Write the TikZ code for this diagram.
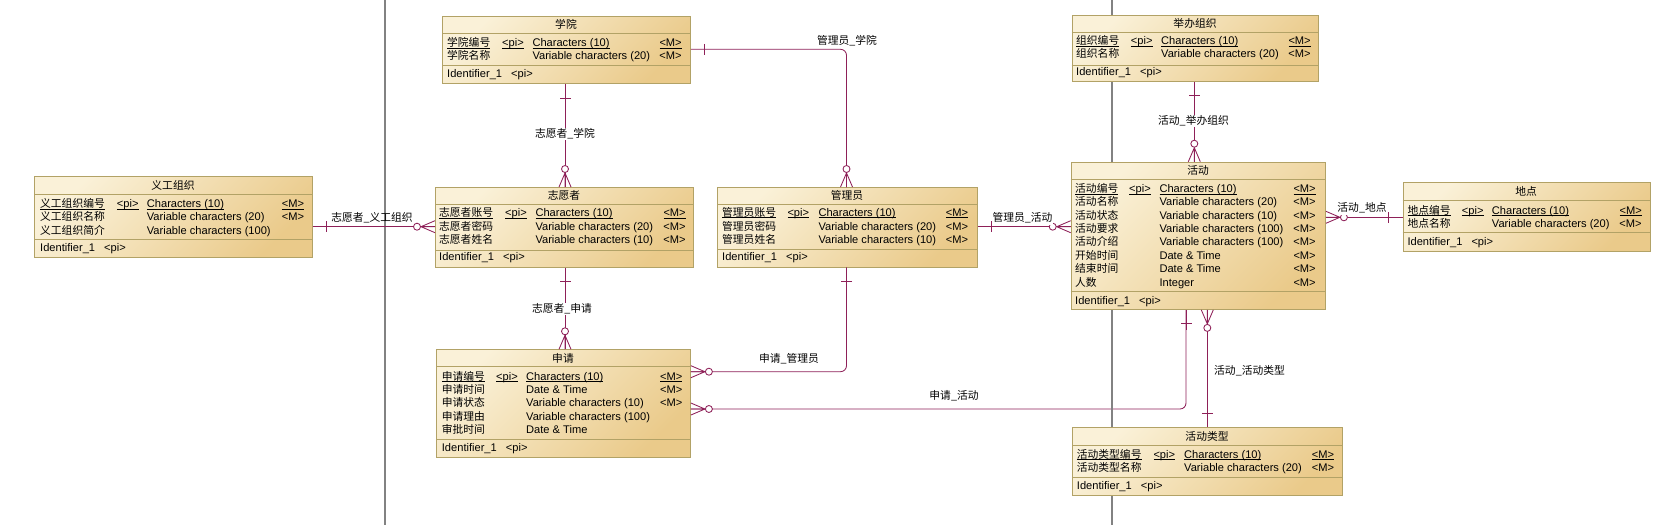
\documentclass[tikz,border=0pt]{standalone}
\usepackage{fontspec}
\setmainfont{Liberation Sans}
\newfontfamily\cjk{Noto Sans CJK SC}[Scale=0.97]
\definecolor{entborder}{RGB}{178,162,102}
\definecolor{entlight}{RGB}{250,241,216}
\definecolor{entdark}{RGB}{234,202,138}
\definecolor{relcol}{RGB}{142,32,88}
\definecolor{pagegray}{RGB}{130,130,130}
\newcommand\ulfix[1]{\setbox0\hbox{#1}\rlap{\vrule width\wd0 height -1.4pt depth 2.1pt}\box0}
\newcommand\erow[7]{\makebox[#1pt][l]{#4}\makebox[#2pt][l]{#5}\makebox[#3pt][l]{#6}#7}
\newcommand\idrow{\makebox[64pt][l]{Identifier\_1}<pi>}
\tikzset{
  ent/.style={draw=entborder, line width=0.9pt, rectangle, inner sep=0pt, anchor=north west,
    top color=entlight, bottom color=entdark, shading angle=45},
  sepline/.style={draw=entborder, line width=0.9pt},
  txt/.style={inner sep=0pt, anchor=base west, font=\fontsize{11.1}{13}\selectfont},
  ttl/.style={inner sep=0pt, anchor=base, font=\fontsize{11.1}{13}\selectfont\cjk},
  rel/.style={draw=relcol, line width=0.85pt},
  rlabel/.style={inner sep=1pt, fill=white, text height=8pt, text depth=2pt, font=\fontsize{11.1}{13}\selectfont\cjk},
  manyend/.pic={\draw[rel] (0,6)--(14,0)--(0,-6) (0,0)--(14,0); \draw[rel, fill=white] (18,0) circle (3.5pt);},
  oneend/.pic={\draw[rel] (14,-5.5)--(14,5.5);},
  pageline/.style={draw=pagegray, line width=1.2pt},
}
\begin{document}
\begin{tikzpicture}[x=1pt,y=-1pt]
\useasboundingbox (0,0) rectangle (1664,525);
\fill[white] (0,0) rectangle (1664,525);

% ===== 义工组织 =====
\node[ent, minimum width=278pt, minimum height=81pt] (ygzz) at (34,176) {};
\draw[sepline] (34,194) -- (312,194) (34,239.3) -- (312,239.3);
\node[ttl] (ygzz-t) at (173,189) {义工组织};
\node[txt] (ygzz-1) at (40,207.3) {\erow{76.7}{30}{135}{\ulfix{\cjk 义工组织编号}}{\ulfix{<pi>}}{\ulfix{Characters (10)}}{\ulfix{<M>}}};
\node[txt] (ygzz-2) at (40,220.7) {\erow{76.7}{30}{135}{\cjk 义工组织名称}{}{Variable characters (20)}{<M>}};
\node[txt] (ygzz-3) at (40,234) {\erow{76.7}{30}{135}{\cjk 义工组织简介}{}{Variable characters (100)}{}};
\node[txt] (ygzz-id) at (40,251.7) {\idrow};

% ===== 学院 =====
\node[ent, minimum width=248pt, minimum height=67.3pt] (xy) at (442,16) {};
\draw[sepline] (442,33.3) -- (690,33.3) (442,65.3) -- (690,65.3);
\node[ttl] (xy-t) at (566,28.7) {学院};
\node[txt] (xy-1) at (447,46.7) {\erow{55}{30.3}{127}{\ulfix{\cjk 学院编号}}{\ulfix{<pi>}}{\ulfix{Characters (10)}}{\ulfix{<M>}}};
\node[txt] (xy-2) at (447,59.5) {\erow{55}{30.3}{127}{\cjk 学院名称}{}{Variable characters (20)}{<M>}};
\node[txt] (xy-id) at (447,77.3) {\idrow};

% ===== 志愿者 =====
\node[ent, minimum width=258pt, minimum height=80pt] (zyz) at (435,187) {};
\draw[sepline] (435,204.3) -- (693,204.3) (435,250) -- (693,250);
\node[ttl] (zyz-t) at (564,199.7) {志愿者};
\node[txt] (zyz-1) at (439,216.7) {\erow{66}{30.3}{128}{\ulfix{\cjk 志愿者账号}}{\ulfix{<pi>}}{\ulfix{Characters (10)}}{\ulfix{<M>}}};
\node[txt] (zyz-2) at (439,230) {\erow{66}{30.3}{128}{\cjk 志愿者密码}{}{Variable characters (20)}{<M>}};
\node[txt] (zyz-3) at (439,243.3) {\erow{66}{30.3}{128}{\cjk 志愿者姓名}{}{Variable characters (10)}{<M>}};
\node[txt] (zyz-id) at (439,260.7) {\idrow};

% ===== 管理员 =====
\node[ent, minimum width=260pt, minimum height=79.5pt] (gly) at (717,187) {};
\draw[sepline] (717,204) -- (977,204) (717,249.7) -- (977,249.7);
\node[ttl] (gly-t) at (847,199.5) {管理员};
\node[txt] (gly-1) at (722,216) {\erow{65.3}{31}{127.4}{\ulfix{\cjk 管理员账号}}{\ulfix{<pi>}}{\ulfix{Characters (10)}}{\ulfix{<M>}}};
\node[txt] (gly-2) at (722,230) {\erow{65.3}{31}{127.4}{\cjk 管理员密码}{}{Variable characters (20)}{<M>}};
\node[txt] (gly-3) at (722,243.3) {\erow{65.3}{31}{127.4}{\cjk 管理员姓名}{}{Variable characters (10)}{<M>}};
\node[txt] (gly-id) at (722,260.7) {\idrow};

% ===== connector guide coordinates =====
\coordinate (yA) at (0,226.7);
\coordinate (xB) at (565,0);
\coordinate (yD) at (0,49.3);
\coordinate (xD) at (846.5,0);
\coordinate (yE) at (0,371.7);
\coordinate (yF) at (0,409);
\coordinate (xF) at (1186,0);
\coordinate (yG) at (0,226.7);
\coordinate (xH) at (1194.3,0);
\coordinate (yI) at (0,217.3);
\coordinate (xJ) at (1207.3,0);

% ===== 申请 =====
\node[ent, minimum width=254pt, minimum height=107.4pt] (sq) at (436,349.3) {};
\draw[sepline] (436,366.7) -- (690,366.7) (436,439.3) -- (690,439.3);
\node[ttl] (sq-t) at (563,362) {申请};
\node[txt] (sq-1) at (441.7,380) {\erow{54.3}{30}{134}{\ulfix{\cjk 申请编号}}{\ulfix{<pi>}}{\ulfix{Characters (10)}}{\ulfix{<M>}}};
\node[txt] (sq-2) at (441.7,393.3) {\erow{54.3}{30}{134}{\cjk 申请时间}{}{Date \& Time}{<M>}};
\node[txt] (sq-3) at (441.7,406.7) {\erow{54.3}{30}{134}{\cjk 申请状态}{}{Variable characters (10)}{<M>}};
\node[txt] (sq-4) at (441.7,420) {\erow{54.3}{30}{134}{\cjk 申请理由}{}{Variable characters (100)}{}};
\node[txt] (sq-5) at (441.7,433.7) {\erow{54.3}{30}{134}{\cjk 审批时间}{}{Date \& Time}{}};
\node[txt] (sq-id) at (441.7,451.3) {\idrow};

% connectors that pass under the right page line
\draw[rel, rounded corners=6pt] (sq.east |- yF) -| (1186,309);

% page lines
\coordinate (pl1a) at (385,0); \coordinate (pl1b) at (385,525);
\coordinate (pl2a) at (1112,0); \coordinate (pl2b) at (1112,525);
\draw[pageline] (pl1a) -- (pl1b);
\draw[pageline] (pl2a) -- (pl2b);

% ===== 举办组织 =====
\node[ent, minimum width=246.6pt, minimum height=66.3pt] (jbzz) at (1071.7,14.7) {};
\draw[sepline] (1071.7,32.3) -- (1318.3,32.3) (1071.7,65) -- (1318.3,65);
\node[ttl] (jbzz-t) at (1195,27.5) {举办组织};
\node[txt] (jbzz-1) at (1076,44.7) {\erow{54.7}{30.3}{127.3}{\ulfix{\cjk 组织编号}}{\ulfix{<pi>}}{\ulfix{Characters (10)}}{\ulfix{<M>}}};
\node[txt] (jbzz-2) at (1076,57.3) {\erow{54.7}{30.3}{127.3}{\cjk 组织名称}{}{Variable characters (20)}{<M>}};
\node[txt] (jbzz-id) at (1076,75) {\idrow};

% ===== 活动 =====
\node[ent, minimum width=254.3pt, minimum height=147.3pt] (hd) at (1070.7,161.7) {};
\draw[sepline] (1070.7,179) -- (1325,179) (1070.7,291) -- (1325,291);
\node[ttl] (hd-t) at (1198,174.3) {活动};
\node[txt] (hd-1) at (1075,192.3) {\erow{54}{30.3}{134}{\ulfix{\cjk 活动编号}}{\ulfix{<pi>}}{\ulfix{Characters (10)}}{\ulfix{<M>}}};
\node[txt] (hd-2) at (1075,205.7) {\erow{54}{30.3}{134}{\cjk 活动名称}{}{Variable characters (20)}{<M>}};
\node[txt] (hd-3) at (1075,219.1) {\erow{54}{30.3}{134}{\cjk 活动状态}{}{Variable characters (10)}{<M>}};
\node[txt] (hd-4) at (1075,232.5) {\erow{54}{30.3}{134}{\cjk 活动要求}{}{Variable characters (100)}{<M>}};
\node[txt] (hd-5) at (1075,245.9) {\erow{54}{30.3}{134}{\cjk 活动介绍}{}{Variable characters (100)}{<M>}};
\node[txt] (hd-6) at (1075,259.3) {\erow{54}{30.3}{134}{\cjk 开始时间}{}{Date \& Time}{<M>}};
\node[txt] (hd-7) at (1075,272.7) {\erow{54}{30.3}{134}{\cjk 结束时间}{}{Date \& Time}{<M>}};
\node[txt] (hd-8) at (1075,286.3) {\erow{54}{30.3}{134}{\cjk 人数}{}{Integer}{<M>}};
\node[txt] (hd-id) at (1075,304) {\idrow};

% ===== 地点 =====
\node[ent, minimum width=247.3pt, minimum height=68.7pt] (dd) at (1402.7,182.3) {};
\draw[sepline] (1402.7,200) -- (1650,200) (1402.7,232.3) -- (1650,232.3);
\node[ttl] (dd-t) at (1526,195) {地点};
\node[txt] (dd-1) at (1407.3,214) {\erow{54.4}{30}{127.6}{\ulfix{\cjk 地点编号}}{\ulfix{<pi>}}{\ulfix{Characters (10)}}{\ulfix{<M>}}};
\node[txt] (dd-2) at (1407.3,227.7) {\erow{54.4}{30}{127.6}{\cjk 地点名称}{}{Variable characters (20)}{<M>}};
\node[txt] (dd-id) at (1407.3,245.7) {\idrow};

% ===== 活动类型 =====
\node[ent, minimum width=270pt, minimum height=67.7pt] (hdlx) at (1072.3,427.3) {};
\draw[sepline] (1072.3,445) -- (1342.3,445) (1072.3,477.3) -- (1342.3,477.3);
\node[ttl] (hdlx-t) at (1207,440) {活动类型};
\node[txt] (hdlx-1) at (1076.7,458) {\erow{76.6}{30.7}{127.7}{\ulfix{\cjk 活动类型编号}}{\ulfix{<pi>}}{\ulfix{Characters (10)}}{\ulfix{<M>}}};
\node[txt] (hdlx-2) at (1076.7,471.7) {\erow{76.6}{30.7}{127.7}{\cjk 活动类型名称}{}{Variable characters (20)}{<M>}};
\node[txt] (hdlx-id) at (1076.7,489) {\idrow};

% ===== connectors =====
\draw[rel] (ygzz.east |- yA) -- (zyz.west |- yA);
\draw[rel] (xy.south -| xB) -- (zyz.north -| xB);
\draw[rel] (zyz.south -| xB) -- (sq.north -| xB);
\draw[rel, rounded corners=6pt] (xy.east |- yD) -| (gly.north -| xD);
\draw[rel, rounded corners=6pt] (sq.east |- yE) -| (gly.south -| xD);
\draw[rel] (1186,330) -- (hd.south -| xF);
\draw[rel] (gly.east |- yG) -- (hd.west |- yG);
\draw[rel] (jbzz.south -| xH) -- (hd.north -| xH);
\draw[rel] (hd.east |- yI) -- (dd.west |- yI);
\draw[rel] (hd.south -| xJ) -- (hdlx.north -| xJ);

% ends
\pic[rotate=0] at (ygzz.east |- yA) {oneend};
\pic[rotate=180] at (zyz.west |- yA) {manyend};
\pic[rotate=-90] at (xy.south -| xB) {oneend};
\pic[rotate=90] at (zyz.north -| xB) {manyend};
\pic[rotate=-90] at (zyz.south -| xB) {oneend};
\pic[rotate=90] at (sq.north -| xB) {manyend};
\pic[rotate=0] at (xy.east |- yD) {oneend};
\pic[rotate=90] at (gly.north -| xD) {manyend};
\pic[rotate=0] at (sq.east |- yE) {manyend};
\pic[rotate=-90] at (gly.south -| xD) {oneend};
\pic[rotate=0] at (sq.east |- yF) {manyend};
\pic[rotate=-90] at (hd.south -| xF) {oneend};
\pic[rotate=0] at (gly.east |- yG) {oneend};
\pic[rotate=180] at (hd.west |- yG) {manyend};
\pic[rotate=-90] at (jbzz.south -| xH) {oneend};
\pic[rotate=90] at (hd.north -| xH) {manyend};
\pic[rotate=0] at (hd.east |- yI) {manyend};
\pic[rotate=180] at (dd.west |- yI) {oneend};
\pic[rotate=-90] at (hd.south -| xJ) {manyend};
\pic[rotate=90] at (hdlx.north -| xJ) {oneend};

% labels
\node[rlabel, fill=none] (lA) at (372,218) {志愿者\_义工组织};
\node[rlabel] (lB) at (565,134.3) {志愿者\_学院};
\node[rlabel] (lC) at (562,309) {志愿者\_申请};
\node[rlabel] (lD) at (847,41.5) {管理员\_学院};
\node[rlabel] (lE) at (789,359.3) {申请\_管理员};
\node[rlabel] (lF) at (954,396) {申请\_活动};
\node[rlabel] (lG) at (1022.5,218.5) {管理员\_活动};
\node[rlabel] (lH) at (1193.5,121) {活动\_举办组织};
\node[rlabel] (lI) at (1362,208.7) {活动\_地点};
\node[rlabel, anchor=west] (lJ) at (1213,371) {活动\_活动类型};
\end{tikzpicture}
\end{document}
